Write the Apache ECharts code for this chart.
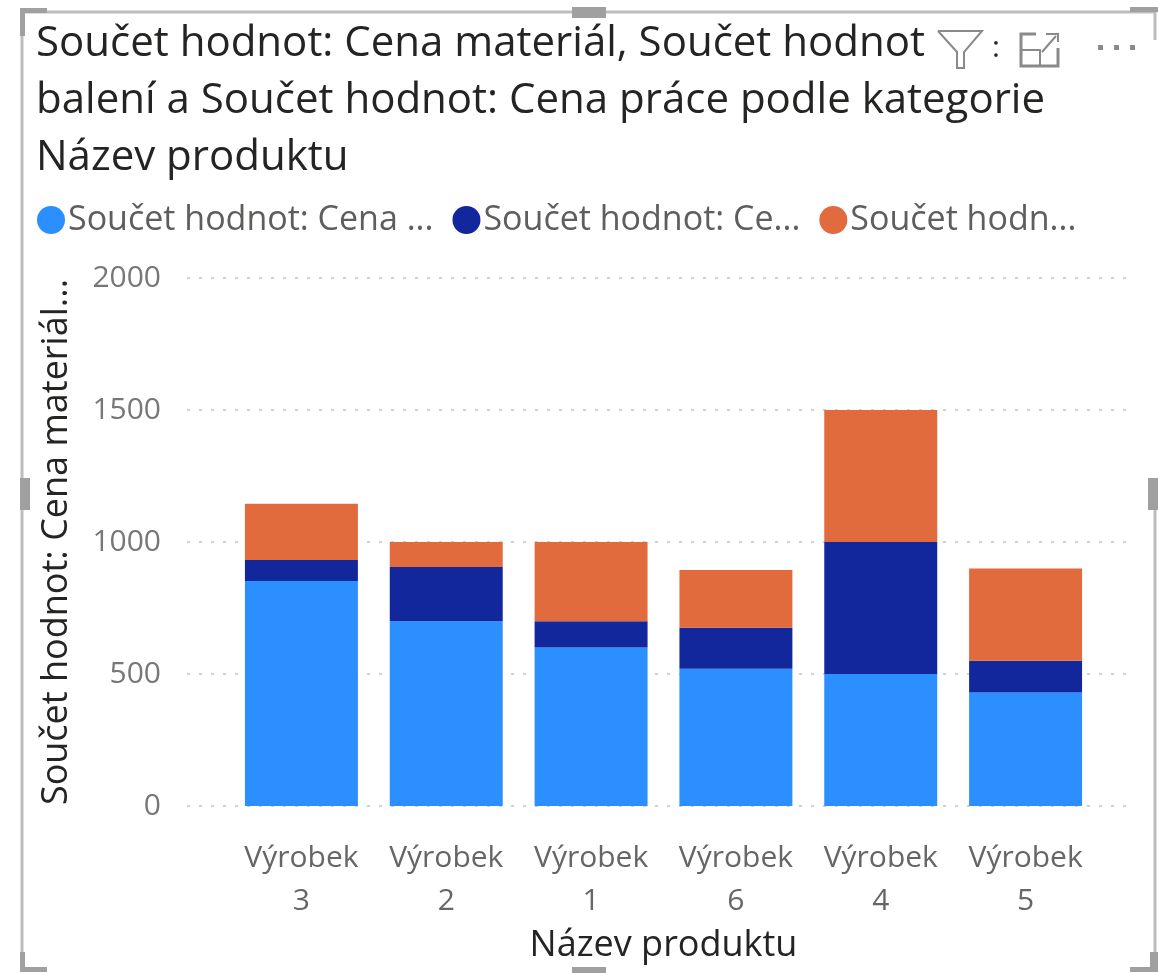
<!DOCTYPE html>
<html><head><meta charset="utf-8">
<style>html,body{margin:0;padding:0;background:#fff}#c{width:1158px;height:973px}</style>
<script src="https://cdn.jsdelivr.net/npm/echarts@6/dist/echarts.min.js"></script>
</head><body><div id="c"></div>
<script>
const categories = ['Výrobek 3','Výrobek 2','Výrobek 1','Výrobek 6','Výrobek 4','Výrobek 5'];
const seriesNames = ['Součet hodnot: Cena materiál','Součet hodnot: Cena balení','Součet hodnot: Cena práce'];
const legendLabels = ['Součet hodnot: Cena ...','Součet hodnot: Ce...','Součet hodn...'];
const material = [852,700,600,520,500,430];
const packaging = [80,205,100,155,500,120];
const labour = [213,95,300,219,500,350];
const colors = ['#2b8fff','#12279b','#e26b3e'];
const titleLines = ['Součet hodnot: Cena materiál, Součet hodnot','balení a Součet hodnot: Cena práce podle kategorie','Název produktu'];
const yTicks = [0,500,1000,1500,2000];
const FONT = '"Open Sans"';
const chart = echarts.init(document.getElementById('c'),null,{renderer:'canvas'});
const frame = '#bdbdbd', handle = '#a0a0a0';
chart.setOption({
  animation:false,
  backgroundColor:'#fff',
  title:{text:titleLines.join('\n'),left:31,top:11,textStyle:{fontFamily:FONT,fontWeight:'normal',fontSize:42,lineHeight:57,color:'#252423'}},
  legend:{left:32,top:198,itemWidth:28,itemHeight:28,itemGap:19,icon:'circle',
    data:seriesNames,
    formatter:n=>legendLabels[seriesNames.indexOf(n)],
    textStyle:{fontFamily:FONT,fontSize:34,color:'#605e5c',padding:[0,0,0,-2]}},
  grid:[
    {left:229,right:60,top:278,bottom:167},
    {left:187,right:23,top:278,bottom:167}
  ],
  xAxis:[
    {type:'category',gridIndex:0,data:categories,
     axisLine:{show:false},axisTick:{show:false},
     axisLabel:{interval:0,margin:31,fontFamily:FONT,fontSize:30,lineHeight:43,color:'#666',formatter:v=>v.replace(' ','\n')},
     name:'Název produktu',nameLocation:'middle',nameGap:116,
     nameTextStyle:{fontFamily:FONT,fontSize:36,color:'#252423'}},
    {type:'category',gridIndex:1,show:false,data:categories}
  ],
  yAxis:[
    {type:'value',gridIndex:0,min:0,max:2000,interval:500,show:false},
    {type:'value',gridIndex:1,min:0,max:2000,interval:500,
     axisLine:{show:false},axisTick:{show:false},
     splitLine:{show:true,lineStyle:{color:'#d0d0d0',type:[3,9],width:2}},
     axisLabel:{margin:26,fontFamily:FONT,fontSize:30,color:'#777',padding:[6,0,0,0],formatter:v=>String(v),customValues:yTicks},
     name:'Součet hodnot: Cena materiál...',nameLocation:'middle',nameGap:112,nameRotate:90,
     nameTextStyle:{fontFamily:FONT,fontSize:36,color:'#252423'}}
  ],
  series:[material,packaging,labour].map((d,i)=>({
    name:seriesNames[i],type:'bar',stack:'t',xAxisIndex:0,yAxisIndex:0,data:d,
    barCategoryGap:'22%',itemStyle:{color:colors[i]}
  })),
  graphic:[
    {type:'polyline',silent:true,shape:{points:[[22,955],[22,12],[1155,12],[1155,40]]},style:{stroke:frame,fill:null,lineWidth:3}},
    {type:'polyline',silent:true,shape:{points:[[1155,480],[1155,955]]},style:{stroke:frame,fill:null,lineWidth:3}},
    {type:'rect',silent:true,shape:{x:20,y:8,width:27,height:5},style:{fill:handle}},
    {type:'rect',silent:true,shape:{x:20,y:8,width:5,height:28},style:{fill:handle}},
    {type:'rect',silent:true,shape:{x:572,y:7,width:34,height:11},style:{fill:handle}},
    {type:'rect',silent:true,shape:{x:1130,y:7,width:28,height:5},style:{fill:handle}},
    {type:'rect',silent:true,shape:{x:20,y:478,width:10,height:32},style:{fill:handle}},
    {type:'rect',silent:true,shape:{x:1148,y:478,width:10,height:32},style:{fill:handle}},
    {type:'rect',silent:true,shape:{x:20,y:952,width:5,height:20},style:{fill:handle}},
    {type:'rect',silent:true,shape:{x:20,y:967,width:27,height:5},style:{fill:handle}},
    {type:'rect',silent:true,shape:{x:572,y:967,width:34,height:6},style:{fill:handle}},
    {type:'rect',silent:true,shape:{x:1150,y:952,width:8,height:20},style:{fill:handle}},
    {type:'rect',silent:true,shape:{x:1130,y:967,width:28,height:5},style:{fill:handle}},
    {type:'polyline',silent:true,shape:{points:[[938,31],[982,31],[964,52],[964,68],[957,68],[957,52],[938,31]]},style:{stroke:'#8a8a8a',fill:'#fff',lineWidth:2}},
    {type:'text',silent:true,style:{x:992,y:33,text:':',font:'30px "Open Sans"',fill:'#252423'}},
    {type:'polyline',silent:true,shape:{points:[[1036,34],[1021,34],[1021,66],[1058,66],[1058,48]]},style:{stroke:'#8a8a8a',fill:null,lineWidth:3}},
    {type:'polyline',silent:true,shape:{points:[[1021,50],[1040,50],[1040,66]]},style:{stroke:'#8a8a8a',fill:null,lineWidth:2}},
    {type:'polyline',silent:true,shape:{points:[[1042,52],[1056,36]]},style:{stroke:'#8a8a8a',fill:null,lineWidth:2}},
    {type:'polyline',silent:true,shape:{points:[[1046,34],[1058,34],[1058,42]]},style:{stroke:'#8a8a8a',fill:null,lineWidth:2}},
    {type:'rect',silent:true,shape:{x:1098,y:45,width:5,height:5},style:{fill:'#8a8a8a'}},
    {type:'rect',silent:true,shape:{x:1114,y:45,width:5,height:5},style:{fill:'#8a8a8a'}},
    {type:'rect',silent:true,shape:{x:1130,y:45,width:5,height:5},style:{fill:'#8a8a8a'}}
  ]
});
</script></body></html>
